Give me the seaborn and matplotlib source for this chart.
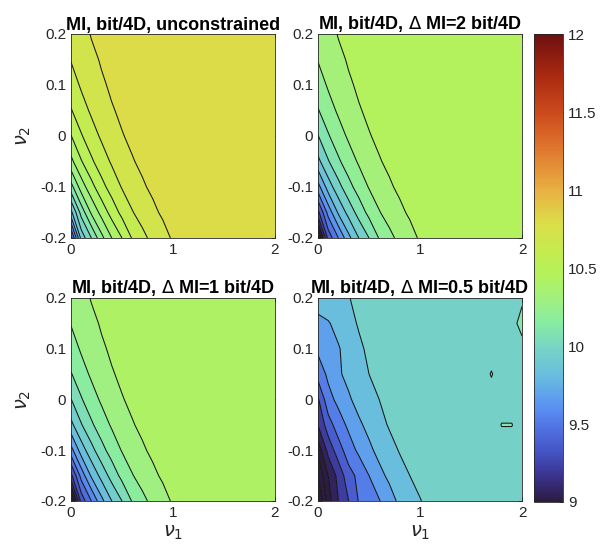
"""
Carte de l'information mutuelle (MI, bit/4D) en fonction de nu1 et nu2,
quatre variantes (sans contrainte, puis Delta MI = 2, 1, 0.5 bit/4D).
Sortie : out.png
"""

import numpy as np
import matplotlib
matplotlib.use("Agg")
import matplotlib.pyplot as plt
from matplotlib.colors import LinearSegmentedColormap, Normalize
from matplotlib.cm import ScalarMappable
from matplotlib.ticker import FormatStrFormatter
import seaborn as sns

# ----------------------------------------------------------------------------
# Données
# ----------------------------------------------------------------------------
NU2 = [-0.2, -0.15, -0.1, -0.05, 0, 0.05, 0.1, 0.15, 0.2]
NU1 = [0, 0.1, 0.2, 0.3, 0.4, 0.5, 0.6, 0.7, 0.8, 0.9, 1.0, 1.5, 2.0]

# une ligne par valeur de nu2 (de -0.2 à 0.2), une colonne par valeur de NU1
MI_UNCONSTRAINED = [
    [9.45, 9.933, 10.1, 10.271, 10.4, 10.5, 10.607, 10.673, 10.727, 10.773, 10.809, 10.843, 10.85],
    [9.869, 10.136, 10.315, 10.435, 10.54, 10.628, 10.694, 10.74, 10.784, 10.811, 10.822, 10.844, 10.85],
    [10.16, 10.347, 10.466, 10.567, 10.643, 10.706, 10.749, 10.791, 10.813, 10.823, 10.83, 10.845, 10.85],
    [10.372, 10.492, 10.584, 10.654, 10.712, 10.754, 10.795, 10.814, 10.824, 10.831, 10.836, 10.846, 10.85],
    [10.496, 10.591, 10.659, 10.715, 10.756, 10.796, 10.814, 10.824, 10.831, 10.836, 10.84, 10.847, 10.85],
    [10.593, 10.66, 10.715, 10.754, 10.794, 10.813, 10.823, 10.831, 10.836, 10.84, 10.843, 10.848, 10.85],
    [10.654, 10.712, 10.75, 10.789, 10.812, 10.822, 10.83, 10.835, 10.839, 10.842, 10.844, 10.849, 10.85],
    [10.705, 10.743, 10.781, 10.808, 10.82, 10.828, 10.834, 10.838, 10.841, 10.843, 10.845, 10.849, 10.85],
    [10.727, 10.768, 10.805, 10.817, 10.826, 10.832, 10.837, 10.84, 10.842, 10.844, 10.846, 10.849, 10.85],
]

MI_DMI2 = [
    [8.83, 9.41, 9.61, 9.815, 9.97, 10.09, 10.218, 10.298, 10.362, 10.418, 10.461, 10.502, 10.51],
    [9.333, 9.653, 9.868, 10.012, 10.138, 10.244, 10.323, 10.378, 10.431, 10.463, 10.476, 10.503, 10.51],
    [9.682, 9.906, 10.049, 10.17, 10.262, 10.337, 10.389, 10.439, 10.466, 10.478, 10.486, 10.504, 10.51],
    [9.936, 10.08, 10.191, 10.275, 10.344, 10.395, 10.444, 10.467, 10.479, 10.487, 10.493, 10.505, 10.51],
    [10.085, 10.199, 10.281, 10.348, 10.397, 10.445, 10.467, 10.479, 10.487, 10.493, 10.498, 10.506, 10.51],
    [10.202, 10.282, 10.348, 10.395, 10.443, 10.466, 10.478, 10.487, 10.493, 10.498, 10.502, 10.508, 10.51],
    [10.275, 10.344, 10.39, 10.437, 10.464, 10.476, 10.486, 10.492, 10.497, 10.5, 10.503, 10.509, 10.51],
    [10.336, 10.382, 10.427, 10.46, 10.474, 10.484, 10.491, 10.496, 10.499, 10.502, 10.504, 10.509, 10.51],
    [10.362, 10.412, 10.456, 10.47, 10.481, 10.488, 10.494, 10.498, 10.5, 10.503, 10.505, 10.509, 10.51],
]

MI_DMI1 = [
    [8.79, 9.37, 9.57, 9.775, 9.93, 10.05, 10.178, 10.258, 10.322, 10.378, 10.421, 10.462, 10.47],
    [9.293, 9.613, 9.828, 9.972, 10.098, 10.204, 10.283, 10.338, 10.391, 10.423, 10.436, 10.463, 10.47],
    [9.642, 9.866, 10.009, 10.13, 10.222, 10.297, 10.349, 10.399, 10.426, 10.438, 10.446, 10.464, 10.47],
    [9.896, 10.04, 10.151, 10.235, 10.304, 10.355, 10.404, 10.427, 10.439, 10.447, 10.453, 10.465, 10.47],
    [10.045, 10.159, 10.241, 10.308, 10.357, 10.405, 10.427, 10.439, 10.447, 10.453, 10.458, 10.466, 10.47],
    [10.162, 10.242, 10.308, 10.355, 10.403, 10.426, 10.438, 10.447, 10.453, 10.458, 10.462, 10.468, 10.47],
    [10.235, 10.304, 10.35, 10.397, 10.424, 10.436, 10.446, 10.452, 10.457, 10.46, 10.463, 10.469, 10.47],
    [10.296, 10.342, 10.387, 10.42, 10.434, 10.444, 10.451, 10.456, 10.459, 10.462, 10.464, 10.469, 10.47],
    [10.322, 10.372, 10.416, 10.43, 10.441, 10.448, 10.454, 10.458, 10.46, 10.463, 10.465, 10.469, 10.47],
]

# le panneau Delta MI = 0.5 est plus "anguleux" : grille propre en nu1
NU1_DMI05 = [0, 0.1, 0.2, 0.3, 0.4, 0.5, 0.6, 0.7, 0.8, 0.9, 1.0, 1.1, 1.6, 1.7, 1.8, 1.9, 2.0]
MI_DMI05 = [
    [8.6, 9.0, 9.22, 9.37, 9.53, 9.59, 9.66, 9.76, 9.85, 9.91, 9.96, 10.03, 10.05, 10.05, 10.05, 10.05, 10.05],
    [8.77, 9.07, 9.27, 9.46, 9.56, 9.67, 9.78, 9.85, 9.91, 9.97, 10.03, 10.05, 10.05, 10.05, 10.05, 10.05, 10.05],
    [8.97, 9.27, 9.45, 9.60, 9.70, 9.79, 9.86, 9.915, 9.98, 10.04, 10.05, 10.05, 10.05, 10.05, 10.05, 10.05, 10.05],
    [9.225, 9.45, 9.60, 9.70, 9.795, 9.86, 9.92, 9.985, 10.03, 10.05, 10.05, 10.05, 10.05, 10.05, 10.125, 10.125, 10.05],
    [9.35, 9.62, 9.71, 9.80, 9.87, 9.92, 9.97, 10.02, 10.05, 10.05, 10.05, 10.05, 10.05, 10.05, 10.05, 10.05, 10.05],
    [9.58, 9.70, 9.80, 9.86, 9.915, 9.97, 10.02, 10.05, 10.05, 10.05, 10.05, 10.05, 10.05, 10.13, 10.05, 10.05, 10.05],
    [9.70, 9.75, 9.81, 9.87, 9.94, 10.0, 10.04, 10.05, 10.05, 10.05, 10.05, 10.05, 10.05, 10.05, 10.05, 10.05, 10.08],
    [9.786, 9.81, 9.86, 9.92, 9.985, 10.03, 10.05, 10.05, 10.05, 10.05, 10.05, 10.05, 10.05, 10.05, 10.05, 10.08, 10.16],
    [9.88, 9.90, 9.93, 9.965, 10.0, 10.03, 10.05, 10.05, 10.05, 10.05, 10.05, 10.05, 10.05, 10.05, 10.05, 10.05, 10.10],
]

# niveaux des isolignes (choisis par MATLAB dans l'original)
LEVELS_UNCONSTRAINED = [9.5, 9.6, 9.7, 9.8, 9.9, 10.0, 10.1, 10.2, 10.3, 10.4, 10.5, 10.6, 10.7, 10.8]
LEVELS_DMI2 = [8.89, 9.01, 9.13, 9.25, 9.37, 9.49, 9.61, 9.73, 9.85, 9.97, 10.09, 10.21, 10.33, 10.45]
LEVELS_DMI1 = [8.85, 8.97, 9.09, 9.21, 9.33, 9.45, 9.57, 9.69, 9.81, 9.93, 10.05, 10.17, 10.29, 10.41]
LEVELS_DMI05 = [8.62, 8.77, 8.92, 9.07, 9.22, 9.37, 9.52, 9.67, 9.82, 9.97, 10.12]

TITLES = [
    "MI, bit/4D, unconstrained",
    r"MI, bit/4D, $\Delta$ MI=2 bit/4D",
    r"MI, bit/4D, $\Delta$ MI=1 bit/4D",
    r"MI, bit/4D, $\Delta$ MI=0.5 bit/4D",
]

CBAR_TICKS = [9, 9.5, 10, 10.5, 11, 11.5, 12]
VMIN, VMAX = 9, 12

CMAP_VALUES = [9.0, 9.15, 9.3, 9.45, 9.6, 9.8, 10.0, 10.15, 10.3, 10.45, 10.6, 10.8, 11.0, 11.25, 11.5, 11.75, 12.0]
CMAP_COLORS = ["#2c1c40", "#3a3088", "#4450c0", "#4f6ee0", "#5a90f2", "#68bce0", "#78d6c2",
               "#88eca2", "#a0f080", "#b4f25c", "#c4ec50", "#dcdc48", "#e8b042", "#e07a30",
               "#cc4a1c", "#a82810", "#6e1010"]

TEXT_COLOR = "#262626"


def build_cmap():
    pos = [(v - VMIN) / (VMAX - VMIN) for v in CMAP_VALUES]
    return LinearSegmentedColormap.from_list("mi_turbo", list(zip(pos, CMAP_COLORS)))


def draw_panel(ax, nu1, mi, levels, title, cmap, norm, xlabel=False, ylabel=False):
    X, Y = np.meshgrid(nu1, NU2)
    Z = np.array(mi)
    # comme MATLAB : chaque bande prend la couleur de son niveau inférieur
    fill_levels = [Z.min() - 0.01] + list(levels) + [Z.max() + 0.01]
    colors = [cmap(norm(Z.min()))] + [cmap(norm(v)) for v in levels]
    ax.contourf(X, Y, Z, levels=fill_levels, colors=colors, antialiased=True)
    ax.contour(X, Y, Z, levels=levels, colors="#151515", linewidths=0.75)

    ax.set_xlim(0, 2)
    ax.set_ylim(-0.2, 0.2)
    ax.set_xticks([0, 1, 2])
    ax.set_yticks([-0.2, -0.1, 0, 0.1, 0.2])
    ax.yaxis.set_major_formatter(FormatStrFormatter("%g"))
    ax.tick_params(labelsize=11, colors=TEXT_COLOR, length=3, width=0.6)
    ax.set_title(title, fontsize=13, fontweight="bold", color="black", pad=3)
    for sp in ax.spines.values():
        sp.set_color(TEXT_COLOR)
        sp.set_linewidth(0.6)
    if xlabel:
        ax.set_xlabel(r"$\nu_1$", fontsize=14, color=TEXT_COLOR, labelpad=3)
    if ylabel:
        ax.set_ylabel(r"$\nu_2$", fontsize=14, color=TEXT_COLOR, labelpad=5)


def main():
    sns.set_theme(style="ticks", rc={
        "xtick.direction": "in",
        "ytick.direction": "in",
        "xtick.top": True,
        "ytick.right": True,
    })
    plt.rcParams["font.family"] = ["Liberation Sans", "DejaVu Sans"]

    cmap = build_cmap()
    norm = Normalize(vmin=VMIN, vmax=VMAX)

    fig = plt.figure(figsize=(6.15, 5.55), dpi=100)
    w, h = 0.3317, 0.3676
    ax_tl = fig.add_axes([0.1154, 0.5712, w, h])
    ax_tr = fig.add_axes([0.5171, 0.5712, w, h])
    ax_bl = fig.add_axes([0.1154, 0.0973, w, 0.3658])
    ax_br = fig.add_axes([0.5171, 0.0973, w, 0.3658])

    draw_panel(ax_tl, NU1, MI_UNCONSTRAINED, LEVELS_UNCONSTRAINED, TITLES[0], cmap, norm, ylabel=True)
    draw_panel(ax_tr, NU1, MI_DMI2, LEVELS_DMI2, TITLES[1], cmap, norm)
    draw_panel(ax_bl, NU1, MI_DMI1, LEVELS_DMI1, TITLES[2], cmap, norm, xlabel=True, ylabel=True)
    draw_panel(ax_br, NU1_DMI05, MI_DMI05, LEVELS_DMI05, TITLES[3], cmap, norm, xlabel=True)

    cax = fig.add_axes([0.8683, 0.0955, 0.0472, 0.8432])
    cb = fig.colorbar(ScalarMappable(norm=norm, cmap=cmap), cax=cax, ticks=CBAR_TICKS)
    cb.ax.yaxis.set_major_formatter(FormatStrFormatter("%g"))
    cb.ax.tick_params(labelsize=11, colors=TEXT_COLOR, direction="in", length=3, width=0.6)
    cb.outline.set_edgecolor(TEXT_COLOR)
    cb.outline.set_linewidth(0.6)

    fig.savefig("out.png", dpi=100)
    plt.close(fig)


if __name__ == "__main__":
    main()
